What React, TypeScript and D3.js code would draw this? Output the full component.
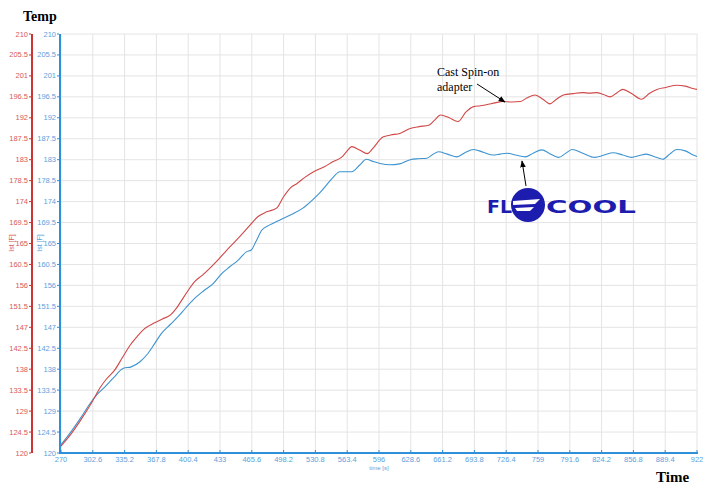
import React from "react";
import * as d3 from "d3";

const yTicks = [120, 124.5, 129, 133.5, 138, 142.5, 147, 151.5, 156, 160.5, 165, 169.5, 174, 178.5, 183, 187.5, 192, 196.5, 201, 205.5, 210];
const xTicks = [270, 302.6, 335.2, 367.8, 400.4, 433, 465.6, 498.2, 530.8, 563.4, 596, 628.6, 661.2, 693.8, 726.4, 759, 791.6, 824.2, 856.8, 889.4, 922];

const castTime = [270, 280, 290, 302, 310, 317, 325, 333, 341, 348, 354, 360, 366, 374, 382, 388, 394, 400, 407, 415, 424, 431, 440, 452, 464, 472, 481, 491, 498, 505, 512, 520, 529, 540, 549, 558, 563, 568, 576, 584, 590, 600, 608, 618, 628, 637, 647, 653, 659, 668, 677, 685, 693, 700, 706, 715, 723, 732, 741, 748, 756, 764, 771, 778, 785, 795, 805, 812, 819, 826, 833, 840, 846, 855, 865, 873, 881, 890, 901, 910, 918, 922];
const castTemp = [121.5, 124, 127, 131, 134, 136, 137.8, 140.5, 143.2, 145, 146.4, 147.3, 148, 148.8, 149.6, 151, 152.9, 154.8, 156.8, 158.2, 160, 161.5, 163.6, 166.2, 169, 170.8, 171.8, 172.6, 175, 176.9, 177.9, 179.2, 180.4, 181.5, 182.6, 183.6, 184.8, 185.8, 185.1, 184.3, 185.5, 187.9, 188.3, 188.7, 189.7, 190.1, 190.4, 191.5, 192.6, 192, 191.2, 193.2, 194.4, 194.6, 194.8, 195.2, 195.5, 195.4, 195.5, 196.3, 196.9, 196, 195, 196, 196.9, 197.2, 197.4, 197.3, 197.4, 197, 196.5, 197.4, 198.1, 197.2, 196, 197.2, 198.1, 198.5, 199, 198.8, 198.3, 198.1];

const flocoolTime = [270, 280, 290, 301, 308, 315, 324, 334, 342, 351, 358, 366, 373, 382, 390, 398, 407, 416, 426, 435, 443, 452, 460, 465, 470, 476, 484, 491, 498, 508, 518, 527, 535, 542, 548, 556, 568, 576, 583, 590, 597, 607, 617, 628, 636, 645, 651, 657, 666, 676, 684, 693, 703, 713, 720, 727, 736, 746, 754, 763, 771, 780, 787, 794, 805, 817, 827, 836, 846, 855, 863, 870, 879, 887, 894, 901, 910, 918, 922];
const flocoolTemp = [121.8, 124.5, 127.5, 131, 132.8, 134.2, 136.2, 138.2, 138.5, 139.6, 141.1, 143.5, 145.7, 147.6, 149.3, 151.2, 153.2, 154.8, 156.4, 158.6, 160, 161.5, 163.2, 163.6, 165.5, 167.9, 169, 169.7, 170.4, 171.4, 172.6, 174.2, 175.8, 177.5, 179, 180.4, 180.4, 181.8, 183.1, 182.6, 182.2, 181.9, 182.1, 183, 183.2, 183.3, 184.1, 184.7, 184.2, 183.6, 184.5, 185.2, 184.6, 184, 184.2, 184.4, 184, 183.6, 184.4, 185.1, 184.3, 183.5, 184.3, 185.2, 184.4, 183.5, 184, 184.5, 184, 183.5, 183.9, 184.2, 183.6, 183.1, 184.2, 185.2, 184.9, 184, 183.7];

const RED = "#cc3333";
const BLUE = "#2f8fd8";
const RED_TXT = "#d65a5a";
const BLUE_TXT = "#5a9fdc";
const RED_LINE = "#d04848";
const BLUE_LINE = "#3d93d0";

export default function App() {
  const x = d3.scaleLinear().domain([270, 922]).range([61, 697]);
  const y = d3.scaleLinear().domain([120, 210]).range([453, 34]);
  const line = d3.line<[number, number]>().x((d) => x(d[0])).y((d) => y(d[1])).curve(d3.curveMonotoneX);
  const castPts = castTime.map((t, i) => [t, castTemp[i]] as [number, number]);
  const floPts = flocoolTime.map((t, i) => [t, flocoolTemp[i]] as [number, number]);
  const fmt = (v: number) => String(v);

  return (
    <svg width={713} height={501} style={{ position: "absolute", left: 0, top: 0, background: "#fff" }}>
      <defs>
        <marker id="arr" viewBox="0 0 10 10" refX="9" refY="5" markerWidth="7" markerHeight="7" orient="auto-start-reverse">
          <path d="M0,1 L10,5 L0,9 z" fill="#000" />
        </marker>
      </defs>
      <rect x={0} y={0} width={713} height={501} fill="#fff" />
      {/* grid */}
      {xTicks.map((t) => (
        <line key={"gx" + t} x1={x(t)} x2={x(t)} y1={y(210)} y2={y(120)} stroke="#e4e4e4" strokeWidth={1} />
      ))}
      {yTicks.map((t) => (
        <line key={"gy" + t} x1={x(270)} x2={x(922)} y1={y(t)} y2={y(t)} stroke="#e4e4e4" strokeWidth={1} />
      ))}
      {/* red axis */}
      <line x1={32} x2={32} y1={y(210)} y2={y(120)} stroke={RED} strokeWidth={2} />
      {yTicks.map((t) => (
        <g key={"ry" + t}>
          <line x1={29} x2={31} y1={y(t)} y2={y(t)} stroke={RED} strokeWidth={1} />
          <text x={28} y={y(t) + 2.5} fontSize={7.5} fill={RED_TXT} textAnchor="end" fontFamily="Arial, Liberation Sans, sans-serif">{fmt(t)}</text>
        </g>
      ))}
      <text transform={`translate(14,243) rotate(-90)`} fontSize={7} fill={RED_TXT} textAnchor="middle" fontFamily="Arial, Liberation Sans, sans-serif">Ist [F]</text>
      {/* blue axis */}
      <line x1={60} x2={60} y1={y(210)} y2={y(120)} stroke={BLUE} strokeWidth={2} />
      {yTicks.map((t) => (
        <g key={"by" + t}>
          <line x1={57} x2={59} y1={y(t)} y2={y(t)} stroke={BLUE} strokeWidth={1} />
          <text x={56} y={y(t) + 2.5} fontSize={7.5} fill={BLUE_TXT} textAnchor="end" fontFamily="Arial, Liberation Sans, sans-serif">{fmt(t)}</text>
        </g>
      ))}
      <text transform={`translate(42,243) rotate(-90)`} fontSize={7} fill={BLUE_TXT} textAnchor="middle" fontFamily="Arial, Liberation Sans, sans-serif">Ist [F]</text>
      {/* bottom axis */}
      <line x1={59} x2={x(922) + 1} y1={y(120)} y2={y(120)} stroke={BLUE} strokeWidth={2} />
      {xTicks.map((t) => (
        <g key={"bx" + t}>
          <line x1={x(t)} x2={x(t)} y1={y(120) - 3} y2={y(120)} stroke={BLUE} strokeWidth={1} />
          <text x={x(t)} y={462} fontSize={7.5} fill={BLUE_TXT} textAnchor="middle" fontFamily="Arial, Liberation Sans, sans-serif">{fmt(t)}</text>
        </g>
      ))}
      <text x={x(596)} y={470} fontSize={6} fill={BLUE_TXT} textAnchor="middle" fontFamily="Arial, Liberation Sans, sans-serif">time [s]</text>
      {/* series */}
      <path d={line(floPts) || ""} fill="none" stroke={BLUE_LINE} strokeWidth={1.1} />
      <path d={line(castPts) || ""} fill="none" stroke={RED_LINE} strokeWidth={1.1} />
      {/* titles */}
      <text x={23} y={21} fontSize={14} fontWeight="bold" fontFamily="Liberation Serif, Times New Roman, serif" fill="#000">Temp</text>
      <text x={656} y={482} fontSize={15} fontWeight="bold" fontFamily="Liberation Serif, Times New Roman, serif" fill="#000">Time</text>
      {/* annotations */}
      <text x={437} y={76} fontSize={12} fontFamily="Liberation Serif, Times New Roman, serif" fill="#000">Cast Spin-on</text>
      <text x={437} y={91} fontSize={12} fontFamily="Liberation Serif, Times New Roman, serif" fill="#000">adapter</text>
      <line x1={477} y1={84} x2={505} y2={102} stroke="#000" strokeWidth={1} markerEnd="url(#arr)" />
      <line x1={526} y1={186} x2={522} y2={161} stroke="#000" strokeWidth={1} markerEnd="url(#arr)" />
      {/* logo */}
      <g fill="#1c1cae">
        <text x={487} y={213} fontSize={17} fontWeight="bold" fontFamily="DejaVu Sans, sans-serif" textLength={25} lengthAdjust="spacingAndGlyphs">FL</text>
        <circle cx={528} cy={205} r={17} />
        <path d="M513,201 L540,199 L535,204 L513,205 Z" fill="#fff" />
        <path d="M515,208 L534,207 L530,211 L517,211 Z" fill="#fff" />
        <text x={546} y={213} fontSize={17} fontWeight="bold" fontFamily="DejaVu Sans, sans-serif" textLength={90} lengthAdjust="spacingAndGlyphs">COOL</text>
      </g>
    </svg>
  );
}
